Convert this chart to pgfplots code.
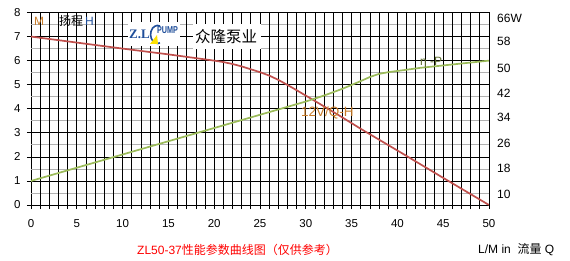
\documentclass[border=0pt]{standalone}
\usepackage{fontspec}
\setmainfont{Liberation Sans}
\newfontfamily\cjk{Noto Sans CJK SC}
\newfontfamily\serifb{Liberation Serif}
\usepackage{pgfplots}
\pgfplotsset{compat=1.18}
\definecolor{cred}{HTML}{C0504D}
\definecolor{cgreen}{HTML}{9BBB59}
\definecolor{corange}{HTML}{C87B28}
\definecolor{cblue}{HTML}{1F4E9A}
\definecolor{colive}{HTML}{5C6B2E}
\begin{document}
\begin{tikzpicture}
\path[use as bounding box] (0,0) rectangle (570pt,260pt);
\begin{axis}[
  at={(31pt,55pt)}, anchor=south west,
  scale only axis, width=458pt, height=192.5pt,
  xmin=0, xmax=50, ymin=0, ymax=8,
  xtick={0,5,...,50}, minor x tick num=4,
  ytick={0,1,...,8},
  axis line style={draw=black, line width=0.8pt},
  tick style={draw=black, line width=0.75pt},
  xtick pos=bottom, ytick pos=left, tick align=outside,
  major tick length=4pt, minor tick length=4pt,
  /pgf/number format/assume math mode=true,
  ticklabel style={font=\fontsize{11.5}{13}\selectfont},
  xticklabel style={yshift=-7pt},
  yticklabel style={xshift=-3pt},
]
\pgfplotsinvokeforeach{0.5,1.5,2.5,3.5,4.5,5.5,6.5,7.5}{
  \draw[black!30, line width=0.75pt] (axis cs:0,#1) -- (axis cs:50,#1);
}
\pgfplotsinvokeforeach{1,2,3,4,5,6,7}{
  \draw[black, line width=0.75pt] (axis cs:0,#1) -- (axis cs:50,#1);
}
\pgfplotsinvokeforeach{1,2,...,49}{
  \draw[black, line width=0.75pt] (axis cs:#1,0) -- (axis cs:#1,8);
}
\addplot[color=cred, line width=1.7pt] coordinates {
 (0,7) (5,6.75) (10,6.5) (15,6.26) (20,6.0) (21,5.94) (22,5.86) (23,5.76)
 (24,5.64) (25,5.52) (26,5.38) (27,5.2) (28,4.99) (29,4.77) (30.7,4.39)
 (33.6,3.73) (36.2,3.12) (40.2,2.22) (44.9,1.15) (50,0)};
\addplot[color=cgreen, line width=1.7pt] coordinates {
 (0,1) (5,1.55) (10,2.1) (15,2.65) (20,3.2) (25,3.75) (30,4.3) (32,4.55)
 (34,4.83) (36,5.15) (37,5.32) (38,5.45) (39,5.52) (40,5.57) (42.5,5.7) (45,5.8)
 (47.5,5.9) (50,6.0)};
\end{axis}
\begin{scope}[x=1pt,y=-1pt,yshift=260pt]
% right axis labels
\foreach \v/\yy in {66W/18,58/41,50/68,42/93,34/117,26/143,18/168,10/194}
  \node[anchor=west, inner sep=0pt, font=\fontsize{12}{14}\selectfont] at (497,\yy) {\v};
% top-left label
\node[anchor=west, inner sep=0pt, text=corange, font=\fontsize{12}{14}\selectfont] at (34,21) {M};
\node[anchor=west, inner sep=0pt, font=\cjk\fontsize{12}{14}\selectfont] at (59,21) {扬程};
\node[anchor=west, inner sep=0pt, text=cblue, font=\fontsize{12}{14}\selectfont] at (85,21) {H};
% logo
\fill[white] (128,22) rectangle (180,46);
\fill[white] (193,24) rectangle (261,49);
\draw[cblue, line width=1.6pt] (160,26) arc[start angle=70, end angle=290, x radius=7pt, y radius=9pt];
\fill[yellow!85!orange] (150,44) -- (157,35) -- (158,44) -- cycle;
\node[anchor=west, inner sep=0pt, text=cblue, font=\serifb\bfseries\fontsize{13}{14}\selectfont] at (129,34) {Z.L};
\node[anchor=west, inner sep=0pt, text=cblue, xscale=0.72, font=\bfseries\fontsize{10}{11}\selectfont] at (157,30) {PUMP};
\node[anchor=west, inner sep=0pt, font=\cjk\fontsize{15.5}{17}\selectfont] at (195,37) {众隆泵业};
% curve labels
\node[anchor=west, inner sep=0pt, text=colive, font=\fontsize{12}{14}\selectfont] at (420,63) {η -P};
\node[anchor=west, inner sep=0pt, text=corange, font=\fontsize{13.5}{15}\selectfont] at (301,113) {12V/Q-H};
% bottom titles
\node[anchor=west, inner sep=0pt, text=red, font=\fontsize{12}{14}\selectfont] at (137,250) {ZL50-37{\cjk 性能参数曲线图（仅供参考）}};
\node[anchor=west, inner sep=0pt, font=\fontsize{12}{14}\selectfont] at (478,250) {L/M in\ \ {\cjk 流量} Q};
\end{scope}
\end{tikzpicture}
\end{document}
